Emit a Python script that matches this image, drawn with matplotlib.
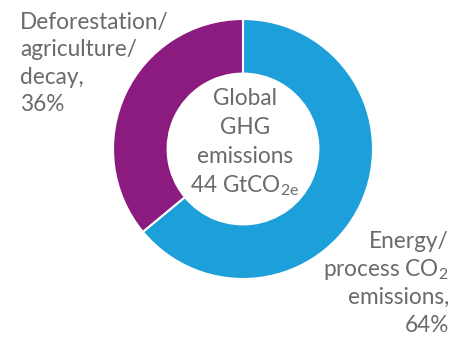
import matplotlib
matplotlib.use('Agg')
import matplotlib.pyplot as plt

# share of global GHG emissions (44 GtCO2e)
shares = [64, 36]
colors = ['#1d9fd9', '#8c1b7f']
energy_lines = ['Energy/', 'process CO$_2$', 'emissions,', '64%']
land_lines = ['Deforestation/', 'agriculture/', 'decay,', '36%']
centre_lines = ['Global', 'GHG', 'emissions', '44 GtCO$_{2e}$']

plt.rcParams['font.family'] = ['Lato', 'DejaVu Sans']
plt.rcParams['mathtext.default'] = 'regular'
txt_color = '#6a6a6a'

W, H = 467, 338
fig = plt.figure(figsize=(W / 100, H / 100), dpi=100)

# donut, centre at (243,149) px, radius 130 px
cx, cy, r = 243, 149, 130
ax = fig.add_axes([(cx - r) / W, (H - cy - r) / H, 2 * r / W, 2 * r / H])
ax.pie(shares, colors=colors, startangle=90, counterclock=False, radius=1,
       wedgeprops=dict(width=0.42, edgecolor='white', linewidth=1.5))
ax.set_xlim(-1, 1)
ax.set_ylim(-1, 1)
ax.set_aspect('equal')
ax.axis('off')

fs = 16.3


def put_lines(lines, x, y0, step, ha):
    # one text per line so the baselines sit where they should
    for i, s in enumerate(lines):
        fig.text(x / W, 1 - (y0 + i * step) / H, s, ha=ha, va='baseline',
                 fontsize=fs, color=txt_color)


put_lines(land_lines, 20, 29, 27.3, 'left')
put_lines(energy_lines, 449, 248, 28, 'right')
put_lines(centre_lines, 245, 105, 29, 'center')

fig.savefig('out.png', dpi=100)
